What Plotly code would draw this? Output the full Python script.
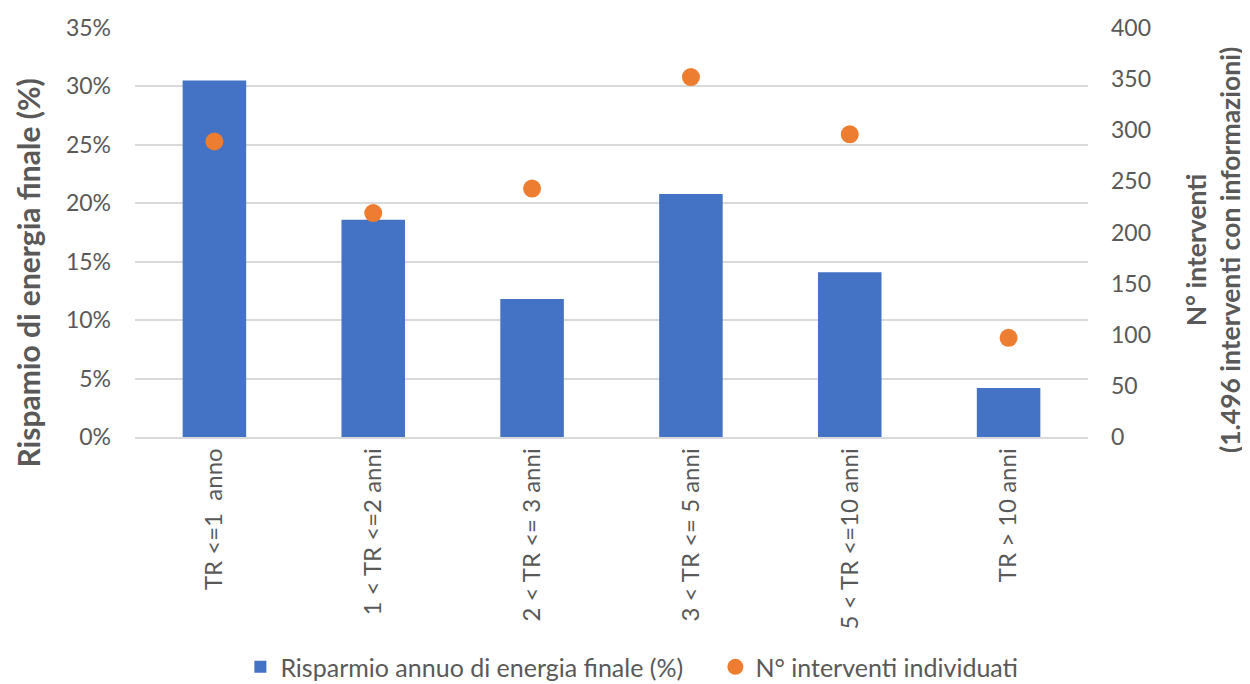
import plotly.graph_objects as go

categories = ["TR <=1  anno", "1 < TR <=2 anni", "2 < TR <= 3 anni",
              "3 < TR <= 5 anni", "5 < TR <=10 anni", "TR > 10 anni"]
risparmio = [0.305, 0.186, 0.118, 0.208, 0.141, 0.042]
interventi = [289, 219, 243, 352, 296, 97]

left_title = "Rispamio di energia finale (%)"
right_title = ["N° interventi", "(1.496 interventi con informazioni)"]

FONT = "Lato"
GREY = "#595959"

fig = go.Figure()
fig.add_trace(go.Bar(
    x=categories, y=risparmio, name="Risparmio annuo di energia finale (%)",
    marker=dict(color="#4472C4", line=dict(width=0)), yaxis="y"))
fig.add_trace(go.Scatter(
    x=categories, y=interventi, name="N° interventi individuati", mode="markers",
    marker=dict(color="#ED7D31", size=18), yaxis="y2"))

fig.update_layout(
    width=1242, height=676,
    paper_bgcolor="white", plot_bgcolor="white",
    margin=dict(l=127, r=162, t=20, b=247, autoexpand=False),
    font=dict(family=FONT, size=23, color=GREY),
    bargap=0.6,
    showlegend=True,
    legend=dict(orientation="h", x=0.609, xanchor="center", yref="container",
                y=0.025, yanchor="middle", entrywidth=430, entrywidthmode="pixels",
                font=dict(size=25, color=GREY), traceorder="normal"),
    xaxis=dict(tickangle=-90, showgrid=False, showline=True, linecolor="#d9d9d9",
               linewidth=1.5, ticks="", automargin=False,
               tickfont=dict(size=24, color=GREY)),
    yaxis=dict(range=[0, 0.35], dtick=0.05, tickformat=".0%", showgrid=True,
               gridcolor="#d9d9d9", gridwidth=1.5, zeroline=False, showline=False,
               ticks="", automargin=False, ticklabelstandoff=23,
               tickfont=dict(size=23, color=GREY)),
    yaxis2=dict(range=[0, 400], dtick=50, overlaying="y", side="right", showgrid=False,
                zeroline=False, showline=False, ticks="", automargin=False,
                ticklabelstandoff=22,
                tickfont=dict(size=23, color=GREY)),
    annotations=[
        dict(text="<b>" + left_title + "</b>", xref="paper", yref="paper",
             x=-0.1128, y=0.401, xanchor="center", yanchor="middle",
             textangle=-90, showarrow=False, font=dict(size=30, color=GREY)),
        dict(text="<b>" + "<br>".join(right_title) + "</b>", xref="paper", yref="paper",
             x=1.1312, y=0.457, xanchor="center", yanchor="middle",
             textangle=-90, showarrow=False, font=dict(size=26.5, color=GREY)),
    ],
)

fig.write_html("out.html")
